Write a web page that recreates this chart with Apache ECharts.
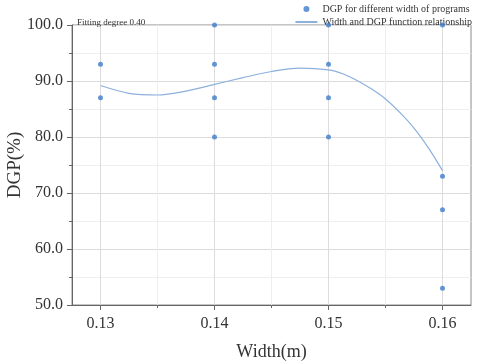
<!DOCTYPE html>
<html><head><meta charset="utf-8">
<script src="https://cdn.jsdelivr.net/npm/echarts@6/dist/echarts.min.js"></script>
<style>html,body{margin:0;padding:0;background:#fff}#c{width:477px;height:364px}</style>
</head><body><div id="c"></div>
<script>
const pointWidths = [0.13,0.13, 0.14,0.14,0.14,0.14, 0.15,0.15,0.15,0.15, 0.16,0.16,0.16,0.16];
const pointDGP    = [93,87,   100,93,87,80,        100,93,87,80,        100,73,67,53];
const fitWidths = [0.13,0.1325,0.135,0.1375,0.14,0.1425,0.145,0.1475,0.15,0.15125,0.1525,0.15375,0.155,0.15625,0.1575,0.15875,0.16];
const fitDGP    = [89.2,87.8,87.5,88.2,89.4,90.6,91.7,92.3,92.0,91.3,90.1,88.6,86.8,84.4,81.6,78.1,74.0];
const xMajorTicks = [0.13,0.14,0.15,0.16];
const xMinorTicks = [0.135,0.145,0.155];
const seriesNames = ['DGP for different width of programs','Width and DGP function relationship'];
const fitNote = 'Fitting degree 0.40';

const serif = '"Liberation Serif","DejaVu Serif",serif';
const chart = echarts.init(document.getElementById('c'));
chart.setOption({
  animation:false,
  backgroundColor:'#fff',
  grid:{left:72,right:6,top:25,bottom:59,show:true,borderColor:'#8a8a8a',borderWidth:1,containLabel:false,outerBoundsMode:'none'},
  title:{text:fitNote,left:72,top:13,textStyle:{fontFamily:serif,fontSize:9,fontWeight:'normal',color:'#333'}},
  legend:{orient:'vertical',right:0,top:-1,itemGap:3,itemWidth:22,itemHeight:6,
    textStyle:{fontFamily:serif,fontSize:10,color:'#333'},
    data:[{name:seriesNames[0],icon:'circle'},{name:seriesNames[1],itemStyle:{opacity:0}}]},
  xAxis:[{
    type:'value',min:0.1275,max:0.1625,position:'bottom',
    name:'Width(m)',nameLocation:'middle',nameGap:38,nameMoveOverlap:false,
    nameTextStyle:{fontFamily:serif,fontSize:18,color:'#333'},
    axisLine:{show:true,lineStyle:{color:'#666'}},
    axisTick:{show:true,customValues:xMajorTicks,length:5,lineStyle:{color:'#666'}},
    axisLabel:{customValues:xMajorTicks,fontFamily:serif,fontSize:16,color:'#333',margin:11,formatter:v=>v.toFixed(2)},
    splitLine:{show:true,lineStyle:{color:'#dcdcdc'}}
  },{
    type:'value',min:0.1275,max:0.1625,position:'bottom',
    axisLine:{show:false},
    axisTick:{show:true,customValues:xMinorTicks,length:3,lineStyle:{color:'#666'}},
    axisLabel:{show:false,customValues:xMinorTicks},
    splitLine:{show:true,lineStyle:{color:'#eeeeee'}}
  }],
  yAxis:{
    type:'value',min:50,max:100,interval:10,
    name:'DGP(%)',nameLocation:'middle',nameGap:47,nameMoveOverlap:false,
    nameTextStyle:{fontFamily:serif,fontSize:19,color:'#333'},
    axisLine:{show:true,lineStyle:{color:'#666'}},
    axisTick:{show:true,length:5,lineStyle:{color:'#666'}},
    minorTick:{show:true,splitNumber:2,length:3,lineStyle:{color:'#666'}},
    axisLabel:{fontFamily:serif,fontSize:16,color:'#333',margin:9,formatter:v=>v.toFixed(1)},
    splitLine:{show:true,lineStyle:{color:'#dcdcdc'}},
    minorSplitLine:{show:true,lineStyle:{color:'#eeeeee'}}
  },
  series:[{
    name:seriesNames[0],type:'scatter',symbolSize:5,
    itemStyle:{color:'#3d7cc9'},
    data:pointWidths.map((w,i)=>[w,pointDGP[i]]),z:5
  },{
    name:seriesNames[1],type:'line',smooth:0.3,symbol:'none',
    lineStyle:{color:'#8db0dc',width:1.2},itemStyle:{color:'#8db0dc'},
    data:fitWidths.map((w,i)=>[w,fitDGP[i]])
  }]
});
</script></body></html>
